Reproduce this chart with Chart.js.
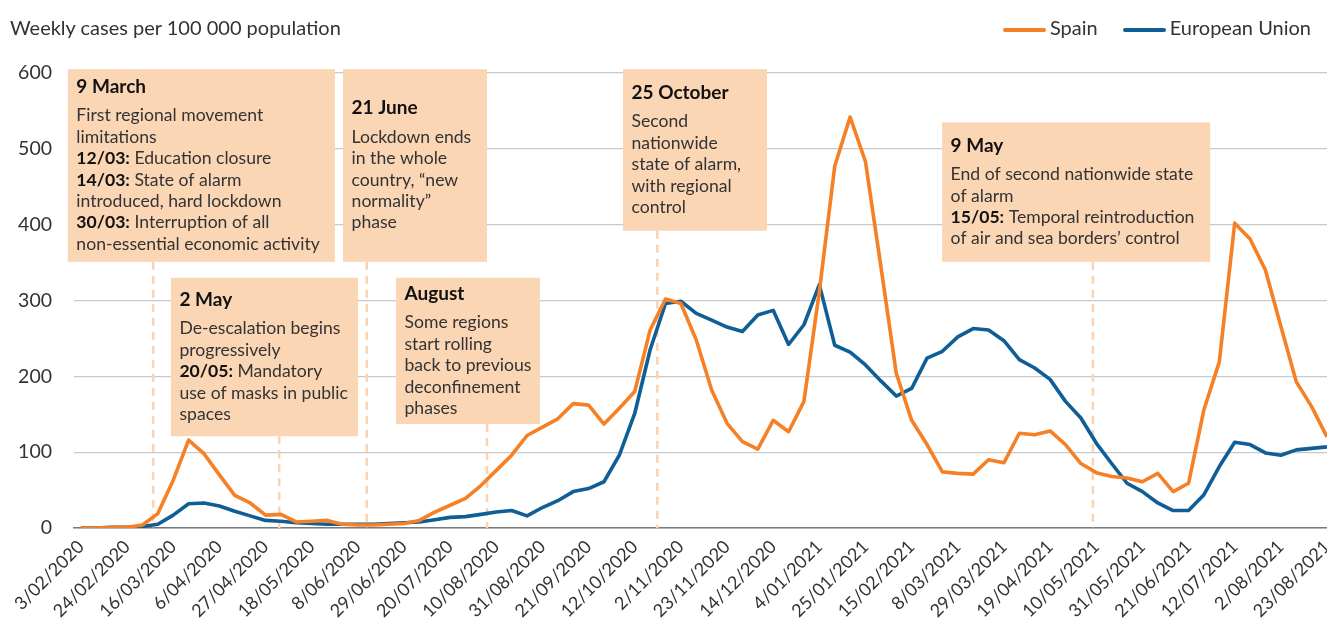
<!DOCTYPE html>
<html>
<head>
<meta charset="utf-8">
<title>Weekly cases per 100 000 population</title>
<script src="https://cdn.jsdelivr.net/npm/chart.js@4.4.0/dist/chart.umd.min.js"></script>
<style>
  body { margin: 0; background: #fff; }
  #wrap { position: relative; width: 1327px; height: 624px; font-family: Lato, sans-serif; color: #333; }
  #yTitle { position: absolute; left: 10px; top: 16px; font-size: 20px; line-height: 22px; }
  #legend { position: absolute; right: 16px; top: 16px; font-size: 20px; line-height: 22px; }
  #legend .item { display: inline-block; margin-left: 25px; }
  #legend .key { display: inline-block; width: 43px; height: 4px; border-radius: 2px; margin-right: 4px; vertical-align: middle; }
</style>
</head>
<body>
<div id="wrap">
  <canvas id="myChart" width="1327" height="624"></canvas>
  <div id="yTitle">Weekly cases per 100 000 population</div>
  <div id="legend"></div>
</div>
<script>
// x tick labels, one every 3 weeks (weekly data starts 3/02/2020)
const tickLabels = ['3/02/2020', '24/02/2020', '16/03/2020', '6/04/2020', '27/04/2020', '18/05/2020',
    '8/06/2020', '29/06/2020', '20/07/2020', '10/08/2020', '31/08/2020', '21/09/2020', '12/10/2020',
    '2/11/2020', '23/11/2020', '14/12/2020', '4/01/2021', '25/01/2021', '15/02/2021', '8/03/2021',
    '29/03/2021', '19/04/2021', '10/05/2021', '31/05/2021', '21/06/2021', '12/07/2021', '2/08/2021',
    '23/08/2021'];

// weekly cases per 100 000 population
const spain = [0, 0, 1, 1, 4, 19, 63, 116, 98, 70,
    43, 33, 17, 18, 8, 9, 10, 5, 4, 4,
    5, 6, 10, 21, 30, 39, 56, 76, 96, 122,
    133, 144, 164, 162, 137, 158, 180, 261, 302, 296,
    248, 182, 138, 114, 104, 142, 127, 167, 312, 477,
    542, 483, 345, 204, 142, 110, 74, 72, 71, 90,
    86, 125, 123, 128, 110, 85, 73, 68, 66, 61,
    72, 48, 59, 156, 219, 402, 381, 340, 266, 193,
    160, 120];
const eu = [0, 0, 1, 1, 2, 5, 17, 32, 33, 29,
    22, 16, 10, 9, 7, 6, 5, 5, 5, 5,
    6, 7, 8, 11, 14, 15, 18, 21, 23, 16,
    27, 36, 48, 52, 61, 96, 151, 235, 296, 299,
    283, 274, 265, 259, 281, 287, 242, 268, 321, 241,
    232, 215, 194, 174, 184, 224, 233, 252, 263, 261,
    247, 222, 211, 196, 167, 145, 112, 85, 59, 48,
    33, 23, 23, 44, 81, 113, 110, 99, 96, 103,
    105, 107];

const seriesNames = ['Spain', 'European Union'];
const seriesColors = ['#f58025', '#0f5e96'];

// annotation boxes, placed in axis units (x = week index, y = cases)
const notes = [
    { x0: -0.85, x1: 16.51, top: 605, bottom: 351, at: 4.70, head: '9 March',
      lines: ['First regional movement', 'limitations', ['12/03:', ' Education closure'],
          ['14/03:', ' State of alarm'], 'introduced, hard lockdown', ['30/03:', ' Interruption of all'],
          'non-essential economic activity'] },
    { x0: 17.04, x1: 26.40, top: 605, bottom: 351, at: 18.58, head: '21 June',
      lines: ['Lockdown ends', 'in the whole', 'country, \u201cnew', 'normality\u201d', 'phase'] },
    { x0: 5.85, x1: 18.01, top: 330, bottom: 121, at: 12.89, head: '2 May',
      lines: ['De-escalation begins', 'progressively', ['20/05:', ' Mandatory'], 'use of masks in public', 'spaces'] },
    { x0: 20.48, x1: 29.84, top: 330, bottom: 137, at: 26.40, head: 'August',
      lines: ['Some regions', 'start rolling', 'back to previous', 'deconfinement', 'phases'] },
    { x0: 35.24, x1: 44.60, top: 605, bottom: 392, at: 37.47, head: '25 October',
      lines: ['Second', 'nationwide', 'state of alarm,', 'with regional', 'control'] },
    { x0: 55.98, x1: 73.41, top: 535, bottom: 351, at: 65.78, head: '9 May',
      lines: ['End of second nationwide state', 'of alarm', ['15/05:', ' Temporal reintroduction'],
          'of air and sea borders\u2019 control'] }
];

const font = 'Lato';

// draws the peach boxes and the dashed date lines under the data lines
const notesPlugin = {
    id: 'notes',
    beforeDatasetsDraw(chart) {
        const ctx = chart.ctx;
        const x = chart.scales.x, y = chart.scales.y;
        ctx.save();
        notes.forEach(function(n) {
            const left = x.getPixelForValue(n.x0), right = x.getPixelForValue(n.x1);
            const top = y.getPixelForValue(n.top), bottom = y.getPixelForValue(n.bottom);
            const lx = x.getPixelForValue(n.at);

            ctx.strokeStyle = '#fbd3b0';
            ctx.lineWidth = 2.5;
            ctx.setLineDash([8, 6]);
            ctx.beginPath();
            ctx.moveTo(lx, bottom);
            ctx.lineTo(lx, chart.chartArea.bottom);
            ctx.stroke();
            ctx.setLineDash([]);

            ctx.fillStyle = '#fbd6b5';
            ctx.fillRect(left, top, right - left, bottom - top);

            // text block is centred vertically in the box
            const tx = left + 8.5;
            let ty = (top + bottom) / 2 - (29 + (n.lines.length - 1) * 21.4) / 2;
            ctx.textBaseline = 'middle';
            ctx.textAlign = 'left';
            ctx.font = 'bold 19px ' + font;
            ctx.fillStyle = '#111';
            ctx.fillText(n.head, tx, ty);
            ty += 29;
            n.lines.forEach(function(l) {
                const parts = Array.isArray(l) ? l : ['', l];
                let cx = tx;
                if (parts[0]) {
                    ctx.font = 'bold 17.6px ' + font;
                    ctx.fillStyle = '#111';
                    ctx.fillText(parts[0], cx, ty);
                    cx += ctx.measureText(parts[0]).width;
                }
                ctx.font = '17.6px ' + font;
                ctx.fillStyle = '#333';
                ctx.fillText(parts[1], cx, ty);
                ty += 21.4;
            });
        });
        ctx.restore();
    }
};

function makeData(values) {
    return values.map(function(v, i) { return { x: i, y: v }; });
}

const data = {
    datasets: [{
        label: seriesNames[0],
        data: makeData(spain),
        borderColor: seriesColors[0],
        backgroundColor: seriesColors[0]
    }, {
        label: seriesNames[1],
        data: makeData(eu),
        borderColor: seriesColors[1],
        backgroundColor: seriesColors[1]
    }]
};

const config = {
    type: 'line',
    data: data,
    plugins: [notesPlugin],
    options: {
        responsive: false,
        animation: false,
        layout: { padding: { top: 73 } },
        elements: {
            point: { radius: 0 },
            line: { borderWidth: 3.6, tension: 0, borderJoinStyle: 'round' }
        },
        plugins: {
            legend: { display: false },
            tooltip: { enabled: false }
        },
        scales: {
            x: {
                type: 'linear',
                min: -0.45,
                max: 81,
                grid: { display: false, drawTicks: false },
                border: { display: true, color: '#7a7a7a', width: 1.5 },
                ticks: {
                    autoSkip: false,
                    minRotation: 45,
                    maxRotation: 45,
                    padding: 8,
                    color: '#333',
                    font: { family: font, size: 18 },
                    callback: function(v) { return tickLabels[v / 3]; }
                },
                afterBuildTicks: function(axis) {
                    axis.ticks = tickLabels.map(function(t, i) { return { value: i * 3 }; });
                },
                afterFit: function(axis) {
                    axis.height = 96;
                    axis.paddingRight = 0;
                }
            },
            y: {
                min: 0,
                max: 600,
                grid: { color: '#c9c9c9', lineWidth: 1.3, drawTicks: false },
                border: { display: false },
                ticks: {
                    stepSize: 100,
                    padding: 22,
                    color: '#333',
                    font: { family: font, size: 19.5 }
                },
                afterFit: function(axis) { axis.width = 74; }
            }
        }
    }
};

const myChart = new Chart(document.getElementById('myChart'), config);

// simple html legend built from the datasets
const legend = document.getElementById('legend');
myChart.data.datasets.forEach(function(ds) {
    legend.innerHTML += '<span class="item"><span class="key" style="background:' + ds.borderColor +
        '"></span>' + ds.label + '</span>';
});
</script>
</body>
</html>
